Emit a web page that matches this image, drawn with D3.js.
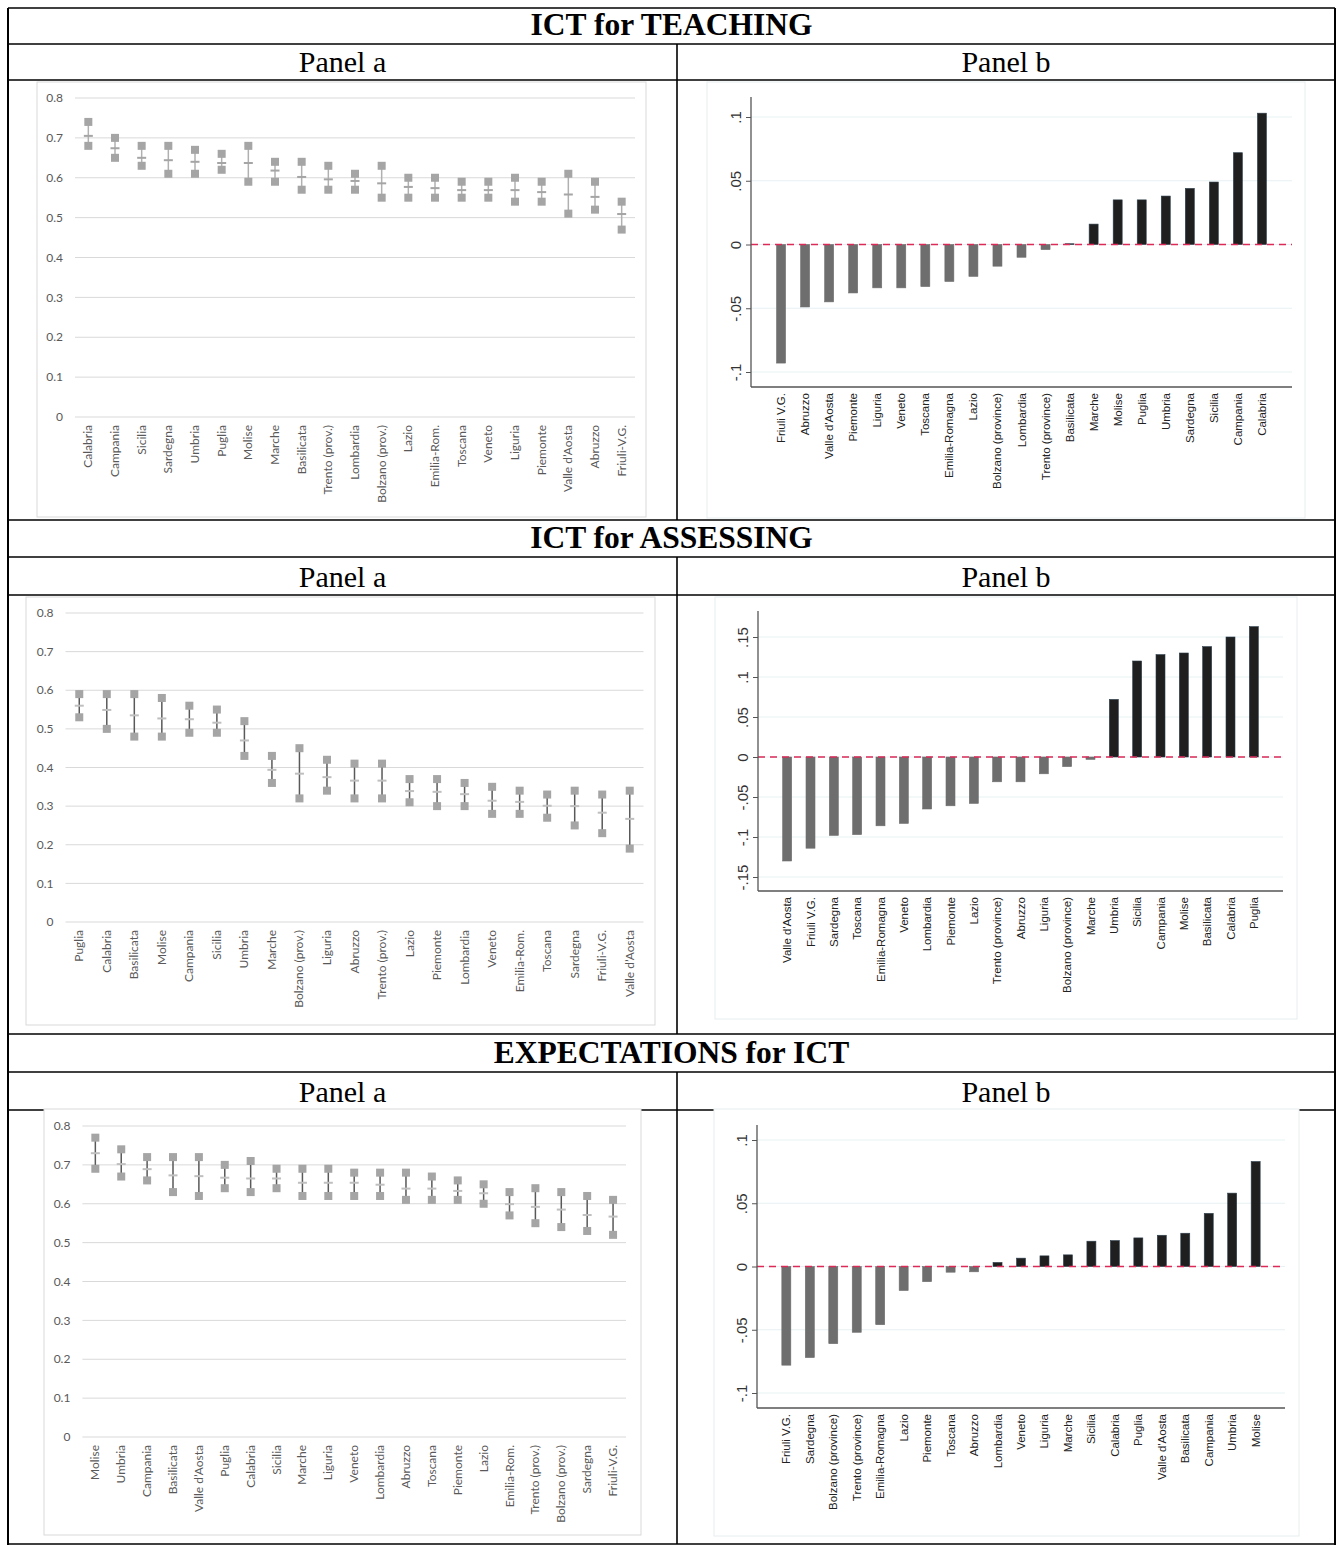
<!DOCTYPE html>
<html>
<head>
<meta charset="utf-8">
<script src="https://cdn.jsdelivr.net/npm/d3@7"></script>
<style>
  body { margin: 0; background: #fff; }
  svg { display: block; }
</style>
</head>
<body>
<div id="vis"></div>
<script>
// values (panel a = mean with upper/lower bound, panel b = differences)

// ICT for TEACHING
var teachRegionsA = ["Calabria", "Campania", "Sicilia", "Sardegna", "Umbria", "Puglia", "Molise", "Marche", "Basilicata", "Trento (prov.)",
  "Lombardia", "Bolzano (prov.)", "Lazio", "Emilia-Rom.", "Toscana", "Veneto", "Liguria", "Piemonte", "Valle d\u2019Aosta", "Abruzzo", "Friuli-V.G."];
var teachUpperA = [0.74, 0.70, 0.68, 0.68, 0.67, 0.66, 0.68, 0.64, 0.64, 0.63, 0.61, 0.63, 0.60, 0.60, 0.59, 0.59, 0.60, 0.59, 0.61, 0.59, 0.54];
var teachMeanA  = [0.705, 0.674, 0.650, 0.644, 0.640, 0.637, 0.637, 0.618, 0.602, 0.596, 0.592, 0.586, 0.577, 0.574, 0.569, 0.569, 0.569, 0.564, 0.558, 0.552, 0.509];
var teachLowerA = [0.68, 0.65, 0.63, 0.61, 0.61, 0.62, 0.59, 0.59, 0.57, 0.57, 0.57, 0.55, 0.55, 0.55, 0.55, 0.55, 0.54, 0.54, 0.51, 0.52, 0.47];

var teachRegionsB = ["Friuli V.G.", "Abruzzo", "Valle d'Aosta", "Piemonte", "Liguria", "Veneto", "Toscana", "Emilia-Romagna", "Lazio", "Bolzano (province)",
  "Lombardia", "Trento (province)", "Basilicata", "Marche", "Molise", "Puglia", "Umbria", "Sardegna", "Sicilia", "Campania", "Calabria"];
var teachValuesB = [-0.093, -0.049, -0.045, -0.038, -0.034, -0.034, -0.033, -0.029, -0.025, -0.017,
  -0.010, -0.004, 0.0006, 0.016, 0.035, 0.035, 0.038, 0.044, 0.049, 0.072, 0.103];
var teachTicksB = [-0.1, -0.05, 0, 0.05, 0.1];
var teachTickLabelsB = ["-.1", "-.05", "0", ".05", ".1"];

// ICT for ASSESSING
var assessRegionsA = ["Puglia", "Calabria", "Basilicata", "Molise", "Campania", "Sicilia", "Umbria", "Marche", "Bolzano (prov.)", "Liguria",
  "Abruzzo", "Trento (prov.)", "Lazio", "Piemonte", "Lombardia", "Veneto", "Emilia-Rom.", "Toscana", "Sardegna", "Friuli-V.G.", "Valle d\u2019Aosta"];
var assessUpperA = [0.59, 0.59, 0.59, 0.58, 0.56, 0.55, 0.52, 0.43, 0.45, 0.42, 0.41, 0.41, 0.37, 0.37, 0.36, 0.35, 0.34, 0.33, 0.34, 0.33, 0.34];
var assessMeanA  = [0.560, 0.549, 0.535, 0.527, 0.525, 0.516, 0.470, 0.394, 0.384, 0.375, 0.366, 0.366, 0.339, 0.337, 0.331, 0.314, 0.311, 0.301, 0.300, 0.283, 0.267];
var assessLowerA = [0.53, 0.50, 0.48, 0.48, 0.49, 0.49, 0.43, 0.36, 0.32, 0.34, 0.32, 0.32, 0.31, 0.30, 0.30, 0.28, 0.28, 0.27, 0.25, 0.23, 0.19];

var assessRegionsB = ["Valle d'Aosta", "Friuli V.G.", "Sardegna", "Toscana", "Emilia-Romagna", "Veneto", "Lombardia", "Piemonte", "Lazio", "Trento (province)",
  "Abruzzo", "Liguria", "Bolzano (province)", "Marche", "Umbria", "Sicilia", "Campania", "Molise", "Basilicata", "Calabria", "Puglia"];
var assessValuesB = [-0.130, -0.114, -0.098, -0.097, -0.086, -0.083, -0.065, -0.061, -0.058, -0.031,
  -0.031, -0.021, -0.012, -0.003, 0.072, 0.120, 0.128, 0.130, 0.138, 0.150, 0.163];
var assessTicksB = [-0.15, -0.1, -0.05, 0, 0.05, 0.1, 0.15];
var assessTickLabelsB = ["-.15", "-.1", "-.05", "0", ".05", ".1", ".15"];

// EXPECTATIONS for ICT
var expectRegionsA = ["Molise", "Umbria", "Campania", "Basilicata", "Valle d\u2019Aosta", "Puglia", "Calabria", "Sicilia", "Marche", "Liguria",
  "Veneto", "Lombardia", "Abruzzo", "Toscana", "Piemonte", "Lazio", "Emilia-Rom.", "Trento (prov.)", "Bolzano (prov.)", "Sardegna", "Friuli-V.G."];
var expectUpperA = [0.77, 0.74, 0.72, 0.72, 0.72, 0.70, 0.71, 0.69, 0.69, 0.69, 0.68, 0.68, 0.68, 0.67, 0.66, 0.65, 0.63, 0.64, 0.63, 0.62, 0.61];
var expectMeanA  = [0.730, 0.702, 0.689, 0.673, 0.671, 0.667, 0.665, 0.665, 0.654, 0.654, 0.654, 0.649, 0.639, 0.639, 0.633, 0.627, 0.599, 0.592, 0.585, 0.571, 0.567];
var expectLowerA = [0.69, 0.67, 0.66, 0.63, 0.62, 0.64, 0.63, 0.64, 0.62, 0.62, 0.62, 0.62, 0.61, 0.61, 0.61, 0.60, 0.57, 0.55, 0.54, 0.53, 0.52];

var expectRegionsB = ["Friuli V.G.", "Sardegna", "Bolzano (province)", "Trento (province)", "Emilia-Romagna", "Lazio", "Piemonte", "Toscana", "Abruzzo", "Lombardia",
  "Veneto", "Liguria", "Marche", "Sicilia", "Calabria", "Puglia", "Valle d'Aosta", "Basilicata", "Campania", "Umbria", "Molise"];
var expectValuesB = [-0.078, -0.072, -0.061, -0.052, -0.046, -0.019, -0.012, -0.0045, -0.0042, 0.0032,
  0.0066, 0.0084, 0.0092, 0.020, 0.0205, 0.0226, 0.0247, 0.0263, 0.042, 0.058, 0.083];
var expectTicksB = [-0.1, -0.05, 0, 0.05, 0.1];
var expectTickLabelsB = ["-.1", "-.05", "0", ".05", ".1"];

// shared tick labels for the panel a charts
var ticksA = [0, 0.1, 0.2, 0.3, 0.4, 0.5, 0.6, 0.7, 0.8];
var tickLabelsA = ["0", "0.1", "0.2", "0.3", "0.4", "0.5", "0.6", "0.7", "0.8"];

var sectionTitles = ["ICT for TEACHING", "ICT for ASSESSING", "EXPECTATIONS for ICT"];

/* page setup */
var width = 1338,
    height = 1545,
    midX = 677,
    leftX = 8,
    rightX = 1335;

var svg = d3.select("#vis")
  .append("svg")
  .attr("width", width)
  .attr("height", height)
  .style("background", "#fff");

// rows of the table: top of title row, line under title, line under "Panel" row, bottom of charts
var rows = [
  {top: 8, lineA: 44, lineB: 80, bottom: 520},
  {top: 520, lineA: 557, lineB: 595, bottom: 1034},
  {top: 1034, lineA: 1072, lineB: 1110, bottom: 1544}
];

var table = svg.append("g");

rows.forEach(function(r) {
  [r.top, r.lineA, r.lineB].forEach(function(yy) {
    table.append("line")
      .attr("x1", leftX).attr("x2", rightX)
      .attr("y1", yy).attr("y2", yy)
      .attr("stroke", "#000").attr("stroke-width", 1.6);
  });
  // divider between panel a and panel b
  table.append("line")
    .attr("x1", midX).attr("x2", midX)
    .attr("y1", r.lineA).attr("y2", r.bottom)
    .attr("stroke", "#000").attr("stroke-width", 1.6);
});

// outer frame
table.append("line").attr("x1", leftX).attr("x2", leftX).attr("y1", 8).attr("y2", 1545)
  .attr("stroke", "#000").attr("stroke-width", 2);
table.append("line").attr("x1", rightX).attr("x2", rightX).attr("y1", 8).attr("y2", 1545)
  .attr("stroke", "#000").attr("stroke-width", 2);
table.append("line").attr("x1", leftX).attr("x2", rightX).attr("y1", 1544).attr("y2", 1544)
  .attr("stroke", "#000").attr("stroke-width", 1.6);

/* panel a: Excel style range chart */
function drawPanelA(cfg) {
  var g = svg.append("g");

  g.append("rect")
    .attr("x", cfg.box[0]).attr("y", cfg.box[1])
    .attr("width", cfg.box[2] - cfg.box[0])
    .attr("height", cfg.box[3] - cfg.box[1])
    .attr("fill", "#fff")
    .attr("stroke", "#d9d9d9");

  var x = d3.scaleBand().domain(cfg.regions).range([cfg.x0, cfg.x1]),
      y = d3.scaleLinear().domain([0, 0.8]).range([cfg.yBottom, cfg.yTop]);

  // gridlines
  g.selectAll(".gridA")
    .data(ticksA)
    .enter().append("line")
    .attr("x1", cfg.x0).attr("x2", cfg.x1)
    .attr("y1", function(d) { return y(d); })
    .attr("y2", function(d) { return y(d); })
    .attr("stroke", "#d9d9d9")
    .attr("stroke-width", 1);

  g.selectAll(".tickA")
    .data(ticksA)
    .enter().append("text")
    .attr("x", cfg.x0 - 12)
    .attr("y", function(d) { return y(d); })
    .attr("dy", "0.35em")
    .attr("text-anchor", "end")
    .attr("font-family", "Lato, 'Open Sans', sans-serif")
    .attr("font-size", "12px")
    .attr("fill", "#595959")
    .text(function(d, i) { return tickLabelsA[i]; });

  var cx = function(d, i) { return x(cfg.regions[i]) + x.bandwidth() / 2; };

  // range line from lower to upper
  g.selectAll(".rangeA")
    .data(cfg.upper)
    .enter().append("line")
    .attr("x1", cx).attr("x2", cx)
    .attr("y1", function(d) { return y(d); })
    .attr("y2", function(d, i) { return y(cfg.lower[i]); })
    .attr("stroke", cfg.lineColor)
    .attr("stroke-width", 1.5);

  // upper and lower markers
  [cfg.upper, cfg.lower].forEach(function(arr) {
    g.selectAll(null)
      .data(arr)
      .enter().append("rect")
      .attr("x", function(d, i) { return cx(d, i) - 4; })
      .attr("y", function(d) { return y(d) - 4; })
      .attr("width", 8)
      .attr("height", 8)
      .attr("fill", "#a5a5a5");
  });

  // mean dash
  g.selectAll(".meanA")
    .data(cfg.mean)
    .enter().append("rect")
    .attr("x", function(d, i) { return cx(d, i) - 4.5; })
    .attr("y", function(d) { return y(d) - 1; })
    .attr("width", 9)
    .attr("height", 2)
    .attr("fill", cfg.meanColor);

  // category labels
  g.selectAll(".labA")
    .data(cfg.regions)
    .enter().append("text")
    .attr("transform", function(d, i) { return "translate(" + (cx(d, i) + 4) + "," + (cfg.yBottom + 8) + ") rotate(-90)"; })
    .attr("text-anchor", "end")
    .attr("font-family", "Lato, 'Open Sans', sans-serif")
    .attr("font-size", "12px")
    .attr("fill", "#595959")
    .text(function(d) { return d; });
}

/* panel b: Stata style bar chart */
function drawPanelB(cfg) {
  var g = svg.append("g");

  g.append("rect")
    .attr("x", cfg.box[0]).attr("y", cfg.box[1])
    .attr("width", cfg.box[2] - cfg.box[0])
    .attr("height", cfg.box[3] - cfg.box[1])
    .attr("fill", "#fff")
    .attr("stroke", "#e6eef0");

  var x = d3.scalePoint().domain(cfg.regions).range([cfg.axisX, cfg.xEnd]).padding(1.25),
      y = d3.scaleLinear().domain(cfg.domain).range(cfg.range);

  // gridlines
  g.selectAll(".gridB")
    .data(cfg.ticks)
    .enter().append("line")
    .attr("x1", cfg.axisX).attr("x2", cfg.xEnd)
    .attr("y1", function(d) { return y(d); })
    .attr("y2", function(d) { return y(d); })
    .attr("stroke", "#e8f1f3")
    .attr("stroke-width", 1.2);

  var barW = 9;

  g.selectAll(".barB")
    .data(cfg.values)
    .enter().append("rect")
    .attr("x", function(d, i) { return x(cfg.regions[i]) - barW / 2; })
    .attr("y", function(d) { return y(Math.max(0, d)); })
    .attr("width", barW)
    .attr("height", function(d) { return Math.max(0.8, Math.abs(y(d) - y(0))); })
    .attr("fill", function(d) { return d > 0 ? "#1f1f1f" : "#6e6e6e"; })
    .attr("stroke", function(d) { return d > 0 ? "#2c3e4c" : "#6e6e6e"; })
    .attr("stroke-width", 0.6);

  // zero reference line
  g.append("line")
    .attr("x1", cfg.axisX).attr("x2", cfg.xEnd)
    .attr("y1", y(0)).attr("y2", y(0))
    .attr("stroke", "#dc2a58")
    .attr("stroke-width", 1.5)
    .attr("stroke-dasharray", "7,5");

  // y axis
  var yAxis = g.append("g")
    .attr("transform", "translate(" + cfg.axisX + ",0)")
    .call(d3.axisLeft(y)
      .tickValues(cfg.ticks)
      .tickFormat(function(d, i) { return cfg.tickLabels[i]; })
      .tickSize(5)
      .tickSizeOuter(0));
  yAxis.select(".domain").remove();
  yAxis.selectAll(".tick line").attr("stroke", "#555");
  yAxis.selectAll(".tick text")
    .attr("x", null)
    .attr("dy", null)
    .attr("transform", "translate(-10,0) rotate(-90)")
    .attr("text-anchor", "middle")
    .attr("font-family", "'Liberation Sans', Arial, sans-serif")
    .attr("font-size", "15px")
    .attr("fill", "#333");

  g.append("line")
    .attr("x1", cfg.axisX).attr("x2", cfg.axisX)
    .attr("y1", cfg.axisTop).attr("y2", cfg.axisBottom)
    .attr("stroke", "#555").attr("stroke-width", 1.3);
  g.append("line")
    .attr("x1", cfg.axisX).attr("x2", cfg.xEnd)
    .attr("y1", cfg.axisBottom).attr("y2", cfg.axisBottom)
    .attr("stroke", "#555").attr("stroke-width", 1.3);

  // category labels
  g.selectAll(".labB")
    .data(cfg.regions)
    .enter().append("text")
    .attr("transform", function(d) { return "translate(" + (x(d) + 4) + "," + (cfg.axisBottom + 6) + ") rotate(-90)"; })
    .attr("text-anchor", "end")
    .attr("font-family", "'Liberation Sans', Arial, sans-serif")
    .attr("font-size", "11.5px")
    .attr("fill", "#222")
    .text(function(d) { return d; });
}

drawPanelA({box: [37, 82, 646, 517], x0: 75, x1: 635, yBottom: 417, yTop: 98,
  regions: teachRegionsA, upper: teachUpperA, mean: teachMeanA, lower: teachLowerA,
  lineColor: "#b0b0b0", meanColor: "#a5a5a5"});
drawPanelA({box: [26, 597, 655, 1025], x0: 65.5, x1: 643.5, yBottom: 922, yTop: 613,
  regions: assessRegionsA, upper: assessUpperA, mean: assessMeanA, lower: assessLowerA,
  lineColor: "#595959", meanColor: "#bfbfbf"});
drawPanelA({box: [44, 1109, 641, 1535], x0: 82.4, x1: 626, yBottom: 1437, yTop: 1126,
  regions: expectRegionsA, upper: expectUpperA, mean: expectMeanA, lower: expectLowerA,
  lineColor: "#595959", meanColor: "#bfbfbf"});

drawPanelB({box: [707, 82, 1305, 518], axisX: 751, xEnd: 1292, axisTop: 97, axisBottom: 387,
  domain: [-0.1, 0.1], range: [372, 117], ticks: teachTicksB, tickLabels: teachTickLabelsB,
  regions: teachRegionsB, values: teachValuesB});
drawPanelB({box: [715, 597, 1297, 1019], axisX: 758, xEnd: 1283, axisTop: 611, axisBottom: 891,
  domain: [-0.15, 0.15], range: [877, 637], ticks: assessTicksB, tickLabels: assessTickLabelsB,
  regions: assessRegionsB, values: assessValuesB});
drawPanelB({box: [714, 1109, 1299, 1536], axisX: 757, xEnd: 1285, axisTop: 1125, axisBottom: 1408,
  domain: [-0.1, 0.1], range: [1393, 1140], ticks: expectTicksB, tickLabels: expectTickLabelsB,
  regions: expectRegionsB, values: expectValuesB});

// titles and panel headers
rows.forEach(function(r, i) {
  svg.append("text")
    .attr("x", (leftX + rightX) / 2)
    .attr("y", r.lineA - 9)
    .attr("text-anchor", "middle")
    .attr("font-family", "'Liberation Serif', 'Times New Roman', serif")
    .attr("font-weight", "bold")
    .attr("font-size", "31.5px")
    .text(sectionTitles[i]);

  svg.append("text")
    .attr("x", (leftX + midX) / 2)
    .attr("y", r.lineB - 8)
    .attr("text-anchor", "middle")
    .attr("font-family", "'Liberation Serif', 'Times New Roman', serif")
    .attr("font-size", "30px")
    .text("Panel a");

  svg.append("text")
    .attr("x", (midX + rightX) / 2)
    .attr("y", r.lineB - 8)
    .attr("text-anchor", "middle")
    .attr("font-family", "'Liberation Serif', 'Times New Roman', serif")
    .attr("font-size", "30px")
    .text("Panel b");
});
</script>
</body>
</html>
